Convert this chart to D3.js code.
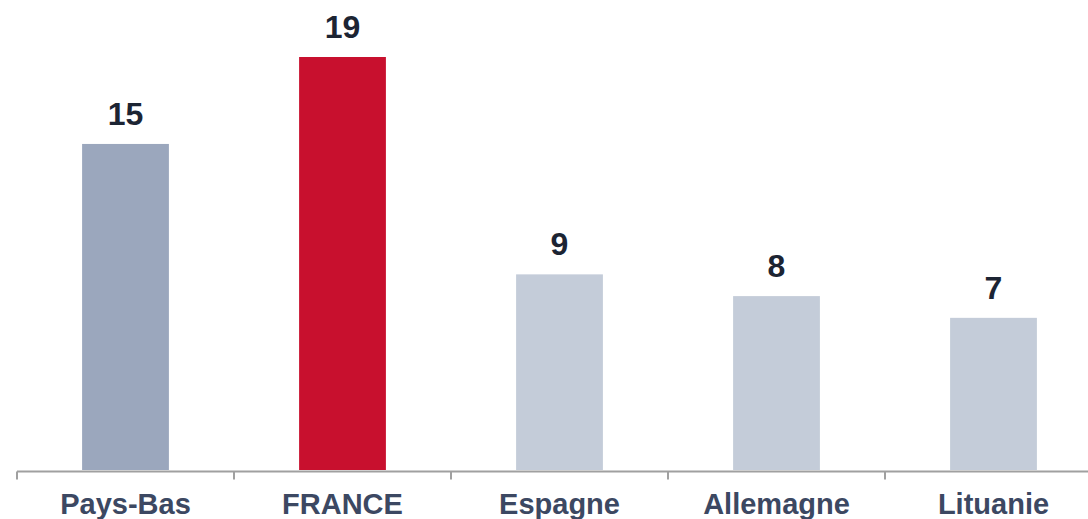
<!DOCTYPE html>
<html>
<head>
<meta charset="utf-8">
<script src="https://cdn.jsdelivr.net/npm/d3@7"></script>
<style>
  html, body { margin: 0; padding: 0; background: #fff; overflow: hidden; }
  svg { display: block; }
</style>
</head>
<body>
<svg width="1088" height="519"></svg>
<script>
const svg = d3.select('svg');

const categories = ['Pays-Bas', 'FRANCE', 'Espagne', 'Allemagne', 'Lituanie'];
const values = [15, 19, 9, 8, 7];
const barColors = ['#9ba7bd', '#c8102e', '#c4ccd9', '#c4ccd9', '#c4ccd9'];

const baseY = 470;
const x = d3.scaleBand()
  .domain(categories)
  .range([17, 17 + 217 * categories.length])
  .paddingInner(0.6)
  .paddingOuter(0.3);

const y = d3.scaleLinear()
  .domain([0, 19])
  .range([baseY, 57]);

const data = categories.map((c, i) => ({ cat: c, value: values[i], color: barColors[i] }));

// bars
svg.selectAll('rect.bar').data(data)
  .enter().append('rect')
  .attr('class', 'bar')
  .attr('x', d => x(d.cat))
  .attr('y', d => y(d.value))
  .attr('width', x.bandwidth())
  .attr('height', d => baseY - y(d.value))
  .attr('fill', d => d.color);

// value labels
svg.selectAll('text.val').data(data)
  .enter().append('text')
  .attr('class', 'val')
  .attr('x', d => x(d.cat) + x.bandwidth() / 2)
  .attr('y', d => y(d.value) - 19)
  .attr('text-anchor', 'middle')
  .style('font-family', 'Liberation Sans, Arial, sans-serif')
  .style('font-weight', 'bold')
  .style('font-size', '32px')
  .attr('fill', '#1c2433')
  .text(d => d.value);

// axis line + ticks at band boundaries
const axisY = 471.5;
svg.append('line')
  .attr('x1', x.range()[0])
  .attr('x2', 1088)
  .attr('y1', axisY)
  .attr('y2', axisY)
  .attr('stroke', '#a0a0a0')
  .attr('stroke-width', 2);

const edges = d3.range(categories.length + 1).map(i => x.range()[0] + i * x.step());
svg.selectAll('line.tick').data(edges)
  .enter().append('line')
  .attr('class', 'tick')
  .attr('x1', d => d)
  .attr('x2', d => d)
  .attr('y1', axisY)
  .attr('y2', axisY + 8)
  .attr('stroke', '#a0a0a0')
  .attr('stroke-width', 2);

// category labels
svg.selectAll('text.cat').data(data)
  .enter().append('text')
  .attr('class', 'cat')
  .attr('x', d => x(d.cat) + x.bandwidth() / 2)
  .attr('y', 514)
  .attr('text-anchor', 'middle')
  .style('font-family', 'Liberation Sans, Arial, sans-serif')
  .style('font-weight', 'bold')
  .style('font-size', '29px')
  .attr('fill', '#3c4862')
  .text(d => d.cat);
</script>
</body>
</html>
